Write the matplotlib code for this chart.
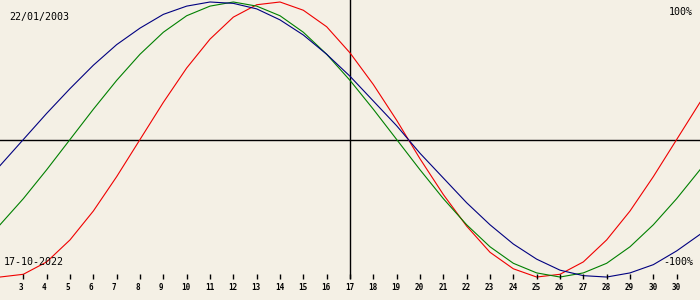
import matplotlib
matplotlib.use("Agg")
import matplotlib.pyplot as plt
import matplotlib.transforms as mtransforms

# Days of the month shown (one point per day)
days = list(range(2, 33))

# Biorhythm values in percent
physical = [-100, -98, -89, -73, -52, -27, 0, 27, 52, 73, 89, 98, 100, 94, 82, 63,
            40, 14, -14, -40, -63, -82, -94, -100, -98, -89, -73, -52, -27, 0, 27]
emotional = [-62, -43, -22, 0, 22, 43, 62, 78, 90, 97, 100, 97, 90, 78, 62, 43,
             22, 0, -22, -43, -62, -78, -90, -97, -100, -97, -90, -78, -62, -43, -22]
intellectual = [-19, 0, 19, 37, 54, 69, 81, 91, 97, 100, 99, 95, 87, 76, 62, 46,
                28, 10, -10, -28, -46, -62, -76, -87, -95, -99, -100, -97, -91, -81, -69]

tick_days = list(range(3, 32))
tick_labels = [str(d) for d in range(3, 31)] + ["30"]

today = 17
birth_label = "22/01/2003"
today_label = "17-10-2022"

bg = "#f4f0e5"
fig = plt.figure(figsize=(7, 3), dpi=100, facecolor=bg)
ax = fig.add_axes([0, 0, 1, 1])
ax.set_facecolor(bg)
ax.set_xlim(2, 32)
ax.set_ylim(-116.7, 101.45)
ax.axis("off")

ax.axhline(0, color="black", lw=1.0)
ax.axvline(today, ymin=0.072, ymax=1, color="black", lw=1.0)

ax.plot(days, physical, color="#f00000", lw=0.8)
ax.plot(days, emotional, color="#008000", lw=0.8)
ax.plot(days, intellectual, color="#000080", lw=0.8)

xt = ax.get_xaxis_transform()
ax.vlines(tick_days, 0.07, 0.087, transform=xt, color="black", lw=1.0)
off = mtransforms.offset_copy(xt, fig=fig, x=-5, y=0, units="dots")
for d, lab in zip(tick_days, tick_labels):
    ax.text(d, 0.04, lab, transform=off, ha="left", va="center",
            fontsize=5.5, family="DejaVu Sans Mono", fontweight="bold", color="black")

mono = dict(family="DejaVu Sans Mono", color="black", fontsize=7.2)
ax.text(9 / 700, 1 - 17 / 300, birth_label, transform=ax.transAxes, ha="left", va="center", **mono)
ax.text(693 / 700, 1 - 12 / 300, "100%", transform=ax.transAxes, ha="right", va="center", **mono)
ax.text(4 / 700, 1 - 262 / 300, today_label, transform=ax.transAxes, ha="left", va="center", **mono)
ax.text(693 / 700, 1 - 262 / 300, "-100%", transform=ax.transAxes, ha="right", va="center", **mono)

fig.savefig("out.png", dpi=100, facecolor=bg)
